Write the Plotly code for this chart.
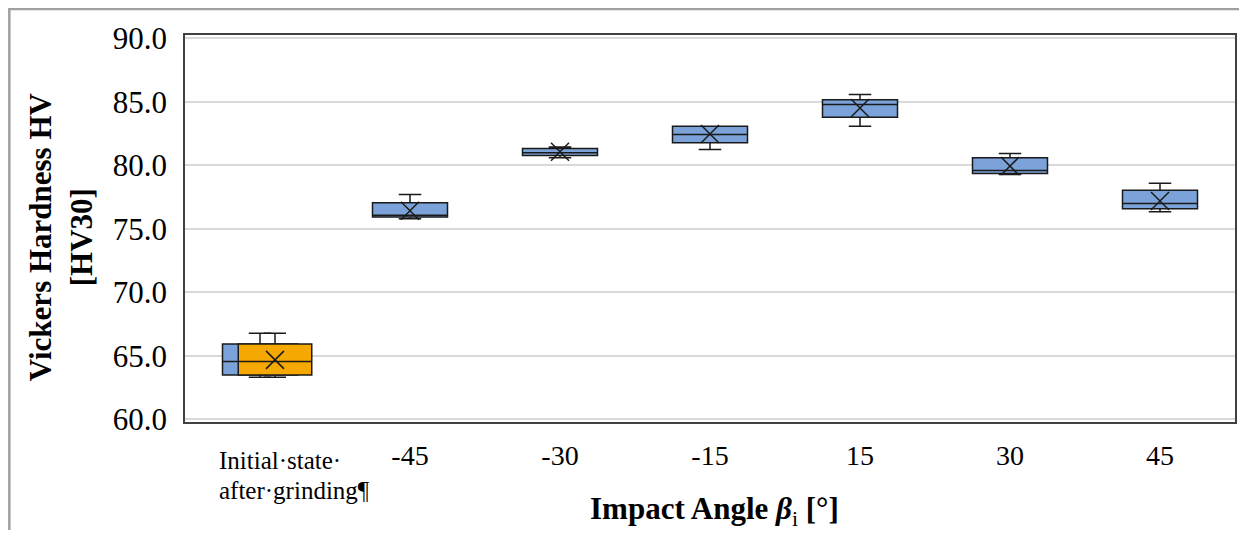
import plotly.graph_objects as go

# ---- data ----
categories = ["Initial·state·<br>after·grinding¶", "-45", "-30", "-15", "15", "30", "45"]
q1_vals = [63.51, 75.94, 80.79, 81.78, 83.79, 79.37, 76.59]
median_vals = [64.56, 76.07, 81.00, 82.44, 84.79, 79.61, 77.01]
q3_vals = [65.95, 77.06, 81.34, 83.09, 85.18, 80.60, 78.04]
lower_vals = [63.32, 75.80, 80.60, 81.26, 83.09, 79.29, 76.36]
upper_vals = [66.79, 77.72, 81.45, 83.09, 85.58, 80.94, 78.59]
mean_vals = [64.69, 76.43, 81.08, 82.48, 84.52, 79.95, 77.20]

# initial state (orange overlay series)
init_q1 = [63.51]
init_median = [64.56]
init_q3 = [65.95]
init_lower = [63.32]
init_upper = [66.79]
init_mean = [64.69]

y_ticks = [60, 65, 70, 75, 80, 85, 90]

# ---- layout constants (page body has an 8px margin on every side) ----
OFF = 8
W, H = 1247 - 2 * OFF, 542 - 2 * OFF - 4
ML, MT = 185 - OFF, 35 - OFF
MR = W - (1237 - OFF)
MB = H - (422 - OFF)
PW = W - ML - MR
PH = H - MT - MB
SERIF = "Liberation Serif, Times New Roman, serif"
BLUE = "#7BA3D9"
ORANGE = "#F5A800"
EDGE = "#1a1a1a"

xpos = list(range(len(categories)))
orange_offset = 0.1


def px_x(p):
    """screen x pixel -> paper coordinate"""
    return (p - OFF - ML) / PW


def px_y(p):
    """screen y pixel -> paper coordinate"""
    return (H - MB - (p - OFF)) / PH


fig = go.Figure()

fig.add_trace(go.Box(
    x=xpos, q1=q1_vals, median=median_vals, q3=q3_vals,
    lowerfence=lower_vals, upperfence=upper_vals,
    width=0.5, whiskerwidth=0.3, fillcolor=BLUE,
    line=dict(color=EDGE, width=1.5), boxpoints=False,
    hoverinfo="skip", showlegend=False,
))

fig.add_trace(go.Box(
    x=[xpos[0] + orange_offset], q1=init_q1, median=init_median, q3=init_q3,
    lowerfence=init_lower, upperfence=init_upper,
    width=0.49, whiskerwidth=0.3, fillcolor=ORANGE,
    line=dict(color=EDGE, width=1.5), boxpoints=False,
    hoverinfo="skip", showlegend=False,
))

mean_x = [xpos[0] + orange_offset] + xpos[1:]
mean_y = init_mean + mean_vals[1:]
fig.add_trace(go.Scatter(
    x=mean_x, y=mean_y, mode="markers",
    marker=dict(symbol="x-thin", size=18, line=dict(color=EDGE, width=1.5)),
    hoverinfo="skip", showlegend=False,
))

tick_text = [""] + categories[1:]

first_lines = categories[0].split("<br>")
cat_annots = [
    dict(
        text=line, xref="paper", yref="paper",
        x=px_x(217), y=px_y(460 + 30 * i), xanchor="left", yanchor="middle",
        showarrow=False, font=dict(family=SERIF, size=25, color="black"),
    )
    for i, line in enumerate(first_lines)
]

fig.update_layout(
    width=W, height=H,
    margin=dict(l=ML, r=MR, t=MT, b=MB, pad=0),
    paper_bgcolor="white", plot_bgcolor="white",
    boxmode="overlay",
    font=dict(family=SERIF, color="black"),
    xaxis=dict(
        range=[-0.5, len(categories) - 0.5],
        tickmode="array", tickvals=xpos, ticktext=tick_text,
        tickfont=dict(family=SERIF, size=28, color="black"),
        showgrid=False, zeroline=False,
        showline=True, mirror=True, linecolor="#404040", linewidth=1.5,
        ticks="", ticklabelstandoff=8,
    ),
    yaxis=dict(
        range=[59.8, 90.27],
        tickmode="array", tickvals=y_ticks,
        ticktext=[f"{v:.1f}" for v in y_ticks],
        tickfont=dict(family=SERIF, size=31, color="black"),
        showgrid=True, gridcolor="#D9D9D9", gridwidth=2,
        zeroline=False,
        showline=True, mirror=True, linecolor="#404040", linewidth=1.5,
        ticks="", ticklabelstandoff=10,
    ),
    shapes=[dict(
        type="rect", xref="paper", yref="paper", layer="below",
        x0=px_x(9), x1=px_x(1270), y0=px_y(570), y1=px_y(9),
        line=dict(color="#A0A0A0", width=2.5), fillcolor="rgba(0,0,0,0)",
    )],
    annotations=cat_annots + [
        dict(
            text="<b>Impact Angle <i>β</i></b><sub>i</sub><b> [°]</b>",
            xref="paper", yref="paper",
            x=px_x(716), y=px_y(511), xanchor="center", yanchor="middle",
            showarrow=False, font=dict(family=SERIF, size=31, color="black"),
        ),
        dict(
            text="<b>Vickers Hardness HV<br>[HV30]</b>",
            xref="paper", yref="paper", textangle=-90,
            x=px_x(60), y=px_y(237), xanchor="center", yanchor="middle",
            showarrow=False, font=dict(family=SERIF, size=31, color="black"),
        ),
    ],
)

fig.write_html("out.html")
